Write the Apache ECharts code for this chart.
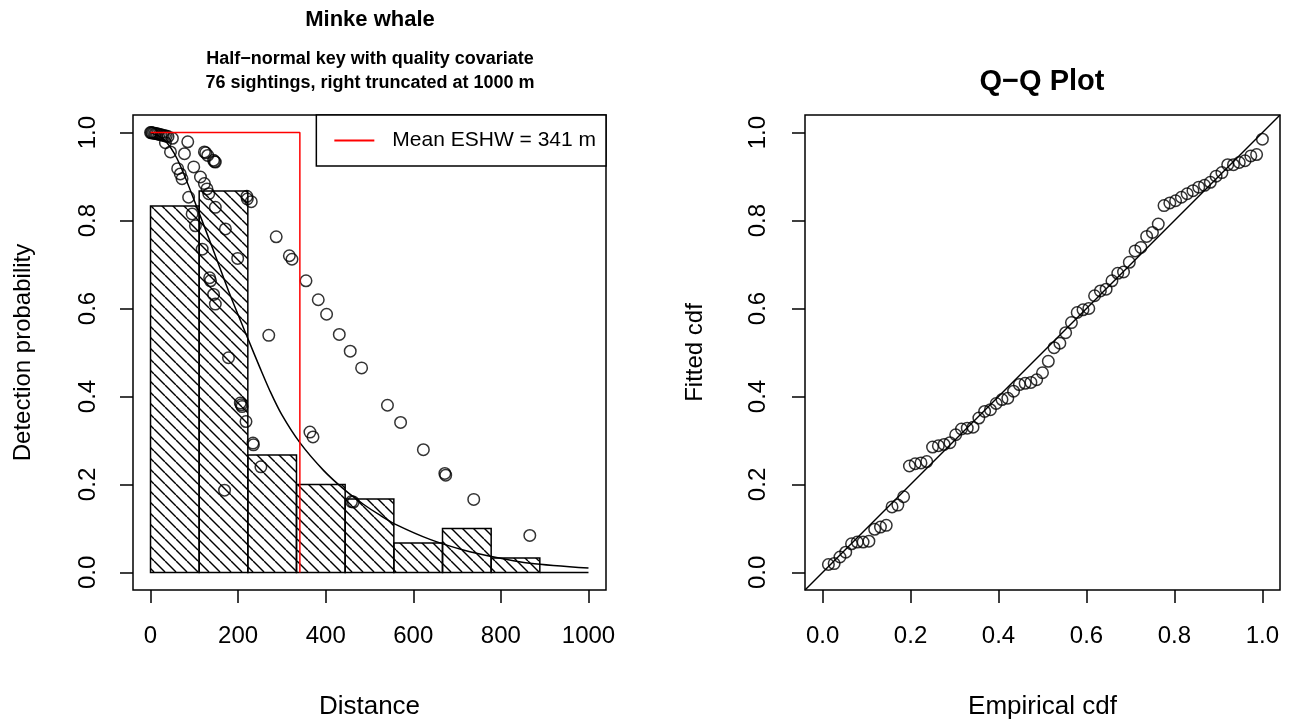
<!DOCTYPE html>
<html>
<head>
<meta charset="utf-8">
<title>Minke whale detection function</title>
<script src="https://cdn.jsdelivr.net/npm/echarts@6/dist/echarts.min.js"></script>
<style>
  html, body { margin: 0; padding: 0; background: #fff; }
  #chart { width: 1290px; height: 719px; }
</style>
</head>
<body>
<div id="chart"></div>
<script>
// ---- Histogram of scaled detection counts (bin edges in metres) ----
const binEdges = [0, 111.1, 222.2, 333.3, 444.4, 555.6, 666.7, 777.8, 888.9, 1000];
const binHeights = [0.833, 0.867, 0.267, 0.2, 0.167, 0.067, 0.1, 0.033, 0];

// ---- Average fitted detection function ----
const curveDistance = [0, 30, 61, 106, 150, 182, 223, 250, 273, 300, 341, 395, 444, 486, 524, 562, 638, 714, 790, 866, 1000];
const curveProb = [1.0, 0.985, 0.94, 0.83, 0.715, 0.63, 0.53, 0.465, 0.412, 0.358, 0.295, 0.232, 0.187, 0.155, 0.13, 0.108, 0.075, 0.051, 0.034, 0.021, 0.01];

// ---- Per-sighting fitted detection probabilities ----
const obsDistance = [
  0, 2, 4, 7, 10, 13, 16, 20, 24, 28, 32, 36, 40, 50, 34,
  45.6, 62, 68, 72, 77.5, 85, 87, 95, 98.7, 102.5,
  114, 118, 123, 123, 126, 129, 130.6, 133, 135, 137, 144, 144, 146, 148, 148, 148,
  169, 171, 178, 199, 205, 209, 207, 218, 220, 221,
  230, 234, 235, 252, 270, 287, 317, 323,
  355, 364, 371, 383, 402, 431,
  456, 459, 463, 482, 541,
  571, 623,
  672, 674, 738,
  866
];
const obsProb = [
  1.000, 1.000, 0.999, 0.999, 0.998, 0.998, 0.997, 0.996, 0.995, 0.994, 0.993, 0.992, 0.991, 0.987, 0.977,
  0.956, 0.918, 0.906, 0.895, 0.952, 0.979, 0.853, 0.815, 0.922, 0.788,
  0.899, 0.735, 0.956, 0.884, 0.954, 0.872, 0.948, 0.861, 0.670, 0.663, 0.937, 0.632, 0.934, 0.933, 0.830, 0.610,
  0.187, 0.781, 0.488, 0.714, 0.385, 0.377, 0.381, 0.343, 0.855, 0.849,
  0.843, 0.294, 0.290, 0.240, 0.539, 0.763, 0.720, 0.712,
  0.663, 0.319, 0.308, 0.620, 0.587, 0.541,
  0.503, 0.161, 0.160, 0.465, 0.380,
  0.341, 0.279,
  0.225, 0.221, 0.166,
  0.084
];

// ---- Effective strip half-width ----
const eshw = 341;
const legendLabel = 'Mean ESHW = ' + eshw + ' m';

// ---- Q-Q plot: empirical vs fitted cdf ----
const empiricalCdf = [
  0.0132, 0.0263, 0.0395, 0.0526, 0.0658, 0.0789, 0.0921, 0.1053, 0.1184, 0.1316,
  0.1447, 0.1579, 0.1711, 0.1842, 0.1974, 0.2105, 0.2237, 0.2368, 0.2500, 0.2632,
  0.2763, 0.2895, 0.3026, 0.3158, 0.3289, 0.3421, 0.3553, 0.3684, 0.3816, 0.3947,
  0.4079, 0.4211, 0.4342, 0.4474, 0.4605, 0.4737, 0.4868, 0.5000, 0.5132, 0.5263,
  0.5395, 0.5526, 0.5658, 0.5789, 0.5921, 0.6053, 0.6184, 0.6316, 0.6447, 0.6579,
  0.6711, 0.6842, 0.6974, 0.7105, 0.7237, 0.7368, 0.7500, 0.7632, 0.7763, 0.7895,
  0.8026, 0.8158, 0.8289, 0.8421, 0.8553, 0.8684, 0.8816, 0.8947, 0.9079, 0.9211,
  0.9342, 0.9474, 0.9605, 0.9737, 0.9868, 1.0000
];
const fittedCdf = [
  0.018, 0.020, 0.035, 0.046, 0.065, 0.069, 0.069, 0.071, 0.098, 0.103,
  0.107, 0.149, 0.153, 0.172, 0.242, 0.247, 0.249, 0.252, 0.285, 0.288,
  0.291, 0.295, 0.313, 0.326, 0.328, 0.330, 0.351, 0.366, 0.370, 0.384,
  0.393, 0.396, 0.412, 0.427, 0.430, 0.432, 0.438, 0.454, 0.480, 0.511,
  0.521, 0.545, 0.568, 0.591, 0.597, 0.600, 0.629, 0.640, 0.644, 0.663,
  0.680, 0.683, 0.705, 0.731, 0.739, 0.764, 0.773, 0.792, 0.834, 0.840,
  0.845, 0.853, 0.861, 0.868, 0.876, 0.880, 0.887, 0.901, 0.909, 0.927,
  0.927, 0.932, 0.936, 0.947, 0.950, 0.985
];

// ---- Axis ticks and limits ----
const distanceTicks = [0, 200, 400, 600, 800, 1000];
const unitTicks = [0, 0.2, 0.4, 0.6, 0.8, 1.0];
const distanceLimits = [-40, 1040];
const unitLimits = [-0.04, 1.04];

// ---- Styling ----
const FONT = '"Liberation Sans", Arial, Helvetica, sans-serif';
const TICK_FS = 24;

// Diagonal hatch tile for the histogram bars
function makeHatch(step) {
  const c = document.createElement('canvas');
  c.width = step; c.height = step;
  const g = c.getContext('2d');
  g.strokeStyle = '#000';
  g.lineWidth = 1.4;
  for (const k of [-step, 0, step]) {
    g.beginPath();
    g.moveTo(k, 0);
    g.lineTo(k + step, step);
    g.stroke();
  }
  return c;
}
const hatch = { image: makeHatch(11), repeat: 'repeat' };

const histData = binHeights.map((h, i) => [binEdges[i], binEdges[i + 1], h]);
const obsData = obsDistance.map((d, i) => [d, obsProb[i]]);
const curveData = curveDistance.map((d, i) => [d, curveProb[i]]);
const qqData = empiricalCdf.map((e, i) => [e, fittedCdf[i]]);

function valueAxis(gridIndex, limits, ticks, name, fmt, isY, labelMargin, nameGap, nameSize) {
  return {
    type: 'value',
    gridIndex: gridIndex,
    min: limits[0],
    max: limits[1],
    name: name,
    nameLocation: 'middle',
    nameGap: nameGap,
    nameRotate: isY ? 90 : 0,
    nameTextStyle: { fontFamily: FONT, fontSize: nameSize, color: '#000' },
    axisLine: { show: false, onZero: false },
    splitLine: { show: false },
    axisTick: {
      show: true,
      inside: false,
      length: 13,
      customValues: ticks,
      lineStyle: { color: '#000', width: 1.5 }
    },
    axisLabel: {
      show: true,
      customValues: ticks,
      formatter: fmt,
      rotate: isY ? 90 : 0,
      margin: labelMargin,
      fontFamily: FONT,
      fontSize: TICK_FS,
      color: '#000'
    }
  };
}

const fmtInt = v => String(Math.round(v));
const fmtOne = v => v.toFixed(1);

const gridBase = {
  top: 115, height: 475, show: true,
  borderColor: '#000', borderWidth: 1.5, backgroundColor: 'transparent',
  containLabel: false, outerBoundsMode: 'none'
};

const option = {
  animation: false,
  backgroundColor: '#fff',
  textStyle: { fontFamily: FONT },
  title: [
    { text: 'Minke whale', left: 370, top: 9, textAlign: 'center', padding: 0,
      textStyle: { fontFamily: FONT, fontWeight: 'bold', fontSize: 22, color: '#000' } },
    { text: 'Half\u2212normal key with quality covariate', left: 370, top: 50, textAlign: 'center', padding: 0,
      textStyle: { fontFamily: FONT, fontWeight: 'bold', fontSize: 18, color: '#000' } },
    { text: '76 sightings, right truncated at 1000 m', left: 370, top: 74, textAlign: 'center', padding: 0,
      textStyle: { fontFamily: FONT, fontWeight: 'bold', fontSize: 18, color: '#000' } },
    { text: 'Q\u2212Q Plot', left: 1042, top: 67, textAlign: 'center', padding: 0,
      textStyle: { fontFamily: FONT, fontWeight: 'bold', fontSize: 29, color: '#000' } }
  ],
  legend: {
    data: [{ name: legendLabel, icon: 'rect' }],
    right: 684,
    top: 115,
    orient: 'vertical',
    padding: [15, 10, 15, 18],
    itemWidth: 40,
    itemHeight: 2,
    borderColor: '#000',
    borderWidth: 1.5,
    borderRadius: 0,
    backgroundColor: '#fff',
    textStyle: { fontFamily: FONT, fontSize: 21, color: '#000', padding: [0, 0, 0, 13] },
    selectedMode: false
  },
  grid: [
    Object.assign({ left: 133, width: 473 }, gridBase),
    Object.assign({ left: 805, width: 475 }, gridBase)
  ],
  xAxis: [
    valueAxis(0, distanceLimits, distanceTicks, 'Distance', fmtInt, false, 34, 104, 26),
    valueAxis(1, unitLimits, unitTicks, 'Empirical cdf', fmtOne, false, 34, 104, 26)
  ],
  yAxis: [
    valueAxis(0, unitLimits, unitTicks, 'Detection probability', fmtOne, true, 33, 98, 24),
    valueAxis(1, unitLimits, unitTicks, 'Fitted cdf', fmtOne, true, 35, 98, 24)
  ],
  series: [
    {
      type: 'custom',
      name: 'histogram',
      xAxisIndex: 0, yAxisIndex: 0,
      data: histData,
      encode: { x: [0, 1], y: 2 },
      z: 1,
      renderItem: function (params, api) {
        const p0 = api.coord([api.value(0), api.value(2)]);
        const p1 = api.coord([api.value(1), 0]);
        return {
          type: 'rect',
          shape: { x: p0[0], y: p0[1], width: p1[0] - p0[0], height: p1[1] - p0[1] },
          style: { fill: hatch, stroke: '#000', lineWidth: 1.5 }
        };
      }
    },
    {
      type: 'line',
      name: 'detection function',
      xAxisIndex: 0, yAxisIndex: 0,
      data: curveData,
      smooth: 0.3,
      showSymbol: false,
      symbol: 'none',
      lineStyle: { color: '#000', width: 1.5 },
      z: 2
    },
    {
      type: 'scatter',
      name: 'sightings',
      xAxisIndex: 0, yAxisIndex: 0,
      data: obsData,
      symbol: 'circle',
      symbolSize: 11.5,
      itemStyle: { color: 'rgba(0,0,0,0)', borderColor: '#000', borderWidth: 1.5 },
      z: 3
    },
    {
      type: 'line',
      name: legendLabel,
      xAxisIndex: 0, yAxisIndex: 0,
      data: [[0, 1], [eshw, 1], [eshw, 0]],
      showSymbol: false,
      symbol: 'none',
      itemStyle: { color: '#ff0000' },
      lineStyle: { color: '#ff0000', width: 1.5 },
      z: 4
    },
    {
      type: 'line',
      name: 'identity',
      xAxisIndex: 1, yAxisIndex: 1,
      data: [[unitLimits[0], unitLimits[0]], [unitLimits[1], unitLimits[1]]],
      showSymbol: false,
      symbol: 'none',
      lineStyle: { color: '#000', width: 1.4 },
      z: 2
    },
    {
      type: 'scatter',
      name: 'qq',
      xAxisIndex: 1, yAxisIndex: 1,
      data: qqData,
      symbol: 'circle',
      symbolSize: 11.5,
      itemStyle: { color: 'rgba(0,0,0,0)', borderColor: '#000', borderWidth: 1.5 },
      z: 3
    }
  ]
};

const chart = echarts.init(document.getElementById('chart'), null, { renderer: 'canvas' });
chart.setOption(option);
</script>
</body>
</html>
